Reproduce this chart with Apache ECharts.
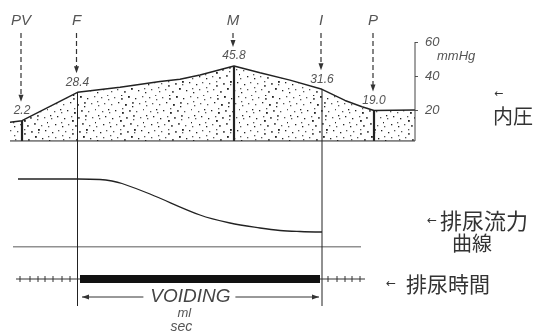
<!DOCTYPE html>
<html><head><meta charset="utf-8">
<script src="https://cdn.jsdelivr.net/npm/echarts@6/dist/echarts.min.js"></script>
<style>html,body{margin:0;padding:0;background:#fff}#c{width:543px;height:332px}</style>
</head><body><div id="c"></div>
<script>
// ---------------- data ----------------
const eventNames  = ['PV', 'F', 'M', 'I', 'P'];
const eventTimes  = [22, 77.5, 234, 322, 374];
const eventLabels = ['2.2', '28.4', '45.8', '31.6', '19.0'];
const throughEvents = ['F', 'I'];

const pressureTimes  = [10, 22, 77.5, 120, 160, 180, 200, 234, 260, 290, 322, 345, 362, 374, 415];
const pressureValues = [12.8, 13.7, 30.4, 33.4, 36.8, 38.1, 40.6, 45.9, 41.9, 37.6, 32.2, 25.6, 21.9, 19.7, 20.0];
const pressureBase = 1.8;
const pressureTicks = [20, 40, 60];

const flowTimes  = [18, 77.5, 100, 112, 122, 150, 200, 230, 260, 280, 300, 322];
const flowValues = [6.8, 6.8, 6.75, 6.6, 6.35, 5.3, 3.2, 2.4, 1.9, 1.65, 1.55, 1.5];
const flowBaseSpan = [13, 361];

const voidSpan = [80, 320];
const timelineLeft = [16, 80];
const timelineRight = [320, 365];
const timeTicks = [20, 30, 38, 45, 53, 62, 70, 328, 337, 345, 352, 360];

// ---------------- helpers ----------------
const T_MAX = 415, FLOW_MAX = 10.3, TL_MIN = -3.2, TL_MAX = 3.2;
const INK = '#222', SOFT = '#555';
const LATIN = '"Liberation Sans", "DejaVu Sans", sans-serif';
const CJK = '"Noto Sans CJK JP", "Noto Sans CJK SC", sans-serif';

function stipple() {
  const s = 48, c = document.createElement('canvas');
  c.width = c.height = s;
  const g = c.getContext('2d');
  g.fillStyle = '#fff'; g.fillRect(0, 0, s, s);
  const a1 = 0.7548776662, a2 = 0.5698402910;
  for (let i = 0; i < 64; i++) {
    const x = Math.floor(((0.5 + a1 * i) % 1) * s);
    const y = Math.floor(((0.5 + a2 * i) % 1) * s);
    g.fillStyle = i % 3 === 0 ? '#222' : '#555';
    const d = i % 4 === 0 ? 1.8 : 1.3;
    g.fillRect(x, y, d, d);
  }
  return c;
}
const levelAt = t => pressureValues[pressureTimes.indexOf(t)];
const zip = (a, b) => a.map((v, i) => [v, b[i]]);
const throughTimes = eventTimes.filter((t, i) => throughEvents.includes(eventNames[i]));

const chart = echarts.init(document.getElementById('c'), null, {renderer: 'canvas'});

const xAxes = [0, 1, 2].map(g => ({type: 'value', gridIndex: g, min: 0, max: T_MAX, show: false}));

const option = {
  animation: false,
  backgroundColor: '#fff',
  grid: [
    {left: 0, top: 42, width: T_MAX, height: 102},
    {left: 0, top: 144, width: T_MAX, height: 103},
    {left: 0, top: 247, width: T_MAX, height: 64}
  ],
  xAxis: xAxes,
  yAxis: [
    {type: 'value', gridIndex: 0, min: 0, max: 60, interval: 20, position: 'right',
      axisLine: {show: false, onZero: false}, splitLine: {show: false},
      axisTick: {show: true, length: 3, customValues: pressureTicks, lineStyle: {color: SOFT}},
      axisLabel: {show: true, customValues: pressureTicks, margin: 10, color: SOFT,
        fontStyle: 'italic', fontSize: 13, fontFamily: LATIN,
        formatter: v => (v === 0 ? '' : String(v))}},
    {type: 'value', gridIndex: 1, min: 0, max: FLOW_MAX, show: false},
    {type: 'value', gridIndex: 2, min: TL_MIN, max: TL_MAX, show: false}
  ],
  series: [
    // pressure curve with stippled area
    {type: 'line', xAxisIndex: 0, yAxisIndex: 0, data: zip(pressureTimes, pressureValues),
      symbol: 'none', silent: true, z: 3,
      lineStyle: {color: INK, width: 1.4},
      areaStyle: {origin: pressureBase, opacity: 1, color: {image: stipple(), repeat: 'repeat'}}},
    // pressure baseline
    {type: 'line', xAxisIndex: 0, yAxisIndex: 0, symbol: 'none', silent: true, z: 4,
      data: [[pressureTimes[0], pressureBase], [T_MAX, pressureBase]],
      lineStyle: {color: INK, width: 1}},
    // right edge (scale line)
    {type: 'line', xAxisIndex: 0, yAxisIndex: 0, symbol: 'none', silent: true, z: 4,
      data: [[T_MAX, pressureBase], [T_MAX, 60]],
      lineStyle: {color: '#444', width: 1}},
    // event markers: verticals, dashed arrows, letters, values
    {type: 'custom', xAxisIndex: 0, yAxisIndex: 0, clip: false, silent: true, z: 5,
      data: eventTimes.map((t, i) => [t, levelAt(t), i]),
      renderItem: (params, api) => {
        const x = api.value(0), lv = api.value(1), i = api.value(2);
        const p = api.coord([x, lv]), b = api.coord([x, pressureBase]), z0 = api.coord([x, 0]);
        const through = throughEvents.includes(eventNames[i]);
        return {type: 'group', children: [
          {type: 'line', shape: {x1: p[0], y1: p[1], x2: p[0], y2: through ? z0[1] : b[1]},
            style: {stroke: INK, lineWidth: through ? 1 : 2.2}},
          {type: 'line', shape: {x1: p[0] - 1, y1: 33, x2: p[0] - 1, y2: p[1] - 25},
            style: {stroke: '#333', lineWidth: 1.2, lineDash: [5, 3]}},
          {type: 'polygon', shape: {points: [[p[0] - 3.5, p[1] - 26], [p[0] + 1.5, p[1] - 26], [p[0] - 1, p[1] - 19]]},
            style: {fill: '#333'}},
          {type: 'text', x: p[0] - 1, y: 21,
            style: {text: eventNames[i], align: 'center', verticalAlign: 'middle',
              font: 'italic 15px ' + LATIN, fill: SOFT}},
          {type: 'text', x: p[0], y: p[1] - 10,
            style: {text: eventLabels[i], align: 'center', verticalAlign: 'middle',
              font: 'italic 12px ' + LATIN, fill: SOFT}}
        ]};
      }},
    // flow curve
    {type: 'line', xAxisIndex: 1, yAxisIndex: 1, data: zip(flowTimes, flowValues),
      symbol: 'none', silent: true, smooth: 0.35,
      lineStyle: {color: INK, width: 1.3}},
    {type: 'line', xAxisIndex: 1, yAxisIndex: 1, symbol: 'none', silent: true,
      data: [[flowBaseSpan[0], 0], [flowBaseSpan[1], 0]],
      lineStyle: {color: INK, width: 1}},
    {type: 'custom', xAxisIndex: 1, yAxisIndex: 1, clip: false, silent: true,
      data: throughTimes.map(t => [t]),
      renderItem: (params, api) => {
        const a = api.coord([api.value(0), FLOW_MAX]), b = api.coord([api.value(0), 0]);
        return {type: 'line', shape: {x1: a[0], y1: a[1], x2: b[0], y2: b[1]}, style: {stroke: INK, lineWidth: 1}};
      }},
    // timeline
    {type: 'line', xAxisIndex: 2, yAxisIndex: 2, symbol: 'none', silent: true,
      data: [[timelineLeft[0], 0], [timelineLeft[1], 0]], lineStyle: {color: '#333', width: 1}},
    {type: 'line', xAxisIndex: 2, yAxisIndex: 2, symbol: 'none', silent: true,
      data: [[timelineRight[0], 0], [timelineRight[1], 0]], lineStyle: {color: '#333', width: 1}},
    {type: 'custom', xAxisIndex: 2, yAxisIndex: 2, clip: false, silent: true,
      data: timeTicks.map(t => [t]),
      renderItem: (params, api) => {
        const a = api.coord([api.value(0), 0.3]), b = api.coord([api.value(0), -0.3]);
        return {type: 'line', shape: {x1: a[0], y1: a[1], x2: b[0], y2: b[1]}, style: {stroke: '#333', lineWidth: 1}};
      }},
    {type: 'custom', xAxisIndex: 2, yAxisIndex: 2, clip: false, silent: true,
      data: [voidSpan],
      renderItem: (params, api) => {
        const s = api.value(0), e = api.value(1);
        const a = api.coord([s, 0.4]), b = api.coord([e, -0.4]);
        const y = api.coord([s, -1.8])[1];
        const cx = a[0] + (b[0] - a[0]) * 0.46;
        return {type: 'group', children: [
          {type: 'rect', shape: {x: a[0], y: a[1], width: b[0] - a[0], height: b[1] - a[1]}, style: {fill: '#111'}},
          {type: 'line', shape: {x1: a[0] + 2, y1: y, x2: cx - 47, y2: y}, style: {stroke: '#333', lineWidth: 1}},
          {type: 'polygon', shape: {points: [[a[0] + 2, y], [a[0] + 9, y - 2.5], [a[0] + 9, y + 2.5]]}, style: {fill: '#333'}},
          {type: 'line', shape: {x1: cx + 45, y1: y, x2: b[0] - 1, y2: y}, style: {stroke: '#333', lineWidth: 1}},
          {type: 'polygon', shape: {points: [[b[0] - 1, y], [b[0] - 8, y - 2.5], [b[0] - 8, y + 2.5]]}, style: {fill: '#333'}},
          {type: 'text', x: cx, y: y,
            style: {text: 'VOIDING', align: 'center', verticalAlign: 'middle',
              font: 'italic 19px "Liberation Sans Narrow", ' + LATIN, fill: '#444'}},
          {type: 'text', x: cx - 6, y: y + 16,
            style: {text: 'ml', align: 'center', verticalAlign: 'middle', font: 'italic 13px ' + LATIN, fill: SOFT}},
          {type: 'text', x: cx - 9, y: y + 30,
            style: {text: 'sec', align: 'center', verticalAlign: 'middle', font: 'italic 14px ' + LATIN, fill: SOFT}}
        ]};
      }},
    {type: 'custom', xAxisIndex: 2, yAxisIndex: 2, clip: false, silent: true,
      data: throughTimes.map(t => [t]),
      renderItem: (params, api) => {
        const a = api.coord([api.value(0), TL_MAX]), b = api.coord([api.value(0), -2.7]);
        return {type: 'line', shape: {x1: a[0], y1: a[1], x2: b[0], y2: b[1]}, style: {stroke: INK, lineWidth: 1}};
      }}
  ],
  graphic: [
    {type: 'text', left: 437, top: 50, style: {text: 'mmHg', font: 'italic 13px ' + LATIN, fill: SOFT}},
    {type: 'text', left: 494, top: 89, style: {text: '←', font: '11px "DejaVu Sans"', fill: '#333'}},
    {type: 'text', left: 493, top: 106, style: {text: '内圧', font: '20px ' + CJK, fill: '#333'}},
    {type: 'text', left: 427, top: 215, style: {text: '←', font: '12px "DejaVu Sans"', fill: '#333'}},
    {type: 'text', left: 440, top: 210, style: {text: '排尿流力', font: '22px ' + CJK, fill: '#333'}},
    {type: 'text', left: 452, top: 233, style: {text: '曲線', font: '20px ' + CJK, fill: '#333'}},
    {type: 'text', left: 386, top: 278, style: {text: '←', font: '12px "DejaVu Sans"', fill: '#333'}},
    {type: 'text', left: 406, top: 274, style: {text: '排尿時間', font: '21px ' + CJK, fill: '#333'}}
  ]
};
chart.setOption(option);
</script>
</body></html>
